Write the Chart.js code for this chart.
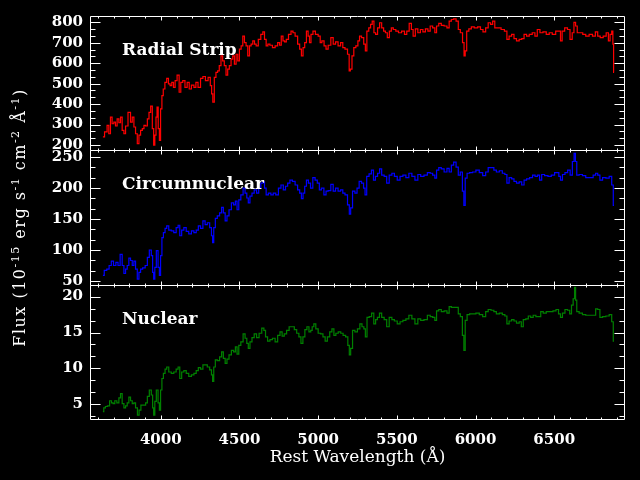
<!DOCTYPE html>
<html>
<head>
<meta charset="utf-8">
<script src="https://cdn.jsdelivr.net/npm/chart.js@4/dist/chart.umd.min.js"></script>
<style>
  html, body { margin: 0; padding: 0; background: #000; }
  canvas { display: block; }
</style>
</head>
<body>
<canvas id="spec" width="640" height="480"></canvas>
<script>
// wavelengths (A) and fluxes
const radialWave = [
  3632,3653,3664,3675,3685,3696,3707,3717,3728,3739,
  3749,3760,3771,3781,3802,3813,3824,3834,3845,3856,
  3866,3877,3888,3898,3909,3920,3930,3941,3951,3958,
  3966,3973,3979,3988,3994,4003,4011,4020,4032,4043,
  4054,4064,4075,4086,4096,4111,4122,4132,4147,4160,
  4175,4186,4203,4218,4228,4245,4260,4275,4292,4309,
  4320,4326,4335,4345,4356,4366,4377,4388,4398,4409,
  4420,4430,4441,4452,4462,4473,4484,4494,4505,4516,
  4526,4537,4547,4558,4569,4579,4590,4601,4611,4628,
  4643,4654,4664,4675,4686,4701,4718,4735,4750,4760,
  4771,4782,4792,4803,4820,4835,4845,4862,4877,4888,
  4899,4909,4920,4931,4941,4949,4960,4974,4991,5009,
  5017,5030,5045,5055,5072,5089,5102,5119,5134,5151,
  5162,5179,5194,5200,5209,5221,5232,5247,5258,5268,
  5283,5296,5304,5315,5328,5338,5349,5360,5370,5385,
  5396,5411,5421,5434,5445,5460,5470,5485,5502,5519,
  5541,5556,5570,5587,5598,5609,5626,5641,5658,5673,
  5690,5705,5719,5736,5747,5758,5775,5790,5811,5826,
  5839,5854,5868,5885,5896,5911,5924,5930,5939,5949,
  5966,5981,6003,6024,6039,6056,6073,6088,6103,6115,
  6130,6152,6173,6194,6205,6222,6237,6252,6269,6286,
  6301,6316,6333,6350,6371,6384,6401,6418,6439,6460,
  6477,6499,6520,6535,6545,6556,6577,6592,6609,6620,
  6631,6641,6652,6673,6690,6711,6733,6754,6769,6784,
  6801,6822,6839,6850,6860,6871,6875,6880
];
const radialFlux = [
  240,264,296,255,336,304,312,293,328,309,
  336,272,255,293,360,312,336,288,255,207,
  248,272,280,296,293,328,360,390,280,199,
  248,336,385,280,223,377,442,474,506,526,
  499,490,506,482,515,542,458,506,515,482,
  506,474,493,482,506,482,526,535,515,531,
  490,450,410,531,555,563,588,636,612,588,
  542,571,588,620,636,596,644,612,669,685,
  733,701,685,636,685,693,709,693,685,717,
  741,753,717,685,693,688,676,685,701,688,
  733,709,704,717,741,757,749,733,693,669,
  636,676,701,757,733,701,741,757,741,733,
  701,709,685,669,688,725,693,704,685,701,
  676,669,644,563,571,636,676,685,709,733,
  725,693,660,757,773,790,806,749,741,773,
  798,773,757,749,725,757,773,765,757,749,
  757,741,757,795,765,733,768,749,765,753,
  768,757,782,773,749,782,795,785,782,773,
  806,814,817,806,765,749,701,636,660,757,
  768,778,773,778,765,753,773,798,790,806,
  773,773,765,757,717,733,741,720,709,717,
  720,741,733,741,749,733,765,749,753,741,
  749,741,757,757,709,757,773,765,717,749,
  800,782,749,749,741,733,741,733,753,733,
  725,733,749,709,741,757,693,555
];

const circWave = [
  3632,3649,3664,3679,3692,3707,3722,3734,3749,3760,
  3771,3781,3792,3802,3813,3824,3834,3845,3856,3866,
  3877,3892,3909,3920,3934,3945,3951,3958,3966,3977,
  3988,3994,4003,4011,4022,4032,4043,4058,4075,4090,
  4105,4115,4126,4139,4154,4169,4186,4203,4218,4232,
  4245,4260,4275,4288,4303,4318,4326,4332,4341,4352,
  4366,4381,4392,4403,4415,4426,4441,4456,4469,4479,
  4490,4501,4516,4530,4541,4552,4560,4573,4586,4601,
  4616,4628,4643,4654,4664,4675,4692,4707,4722,4739,
  4756,4771,4786,4799,4813,4828,4845,4862,4877,4888,
  4899,4909,4920,4931,4945,4958,4974,4987,5002,5013,
  5028,5045,5055,5072,5089,5102,5119,5134,5151,5162,
  5179,5194,5202,5211,5226,5241,5253,5268,5283,5294,
  5302,5315,5332,5345,5358,5370,5385,5396,5411,5428,
  5443,5460,5477,5492,5513,5528,5549,5566,5587,5604,
  5626,5641,5662,5683,5705,5719,5736,5747,5758,5775,
  5790,5811,5826,5839,5854,5868,5885,5896,5911,5922,
  5930,5939,5954,5971,5992,6013,6035,6056,6073,6088,
  6109,6124,6141,6162,6179,6194,6205,6222,6237,6252,
  6269,6286,6301,6316,6333,6354,6371,6386,6401,6413,
  6428,6450,6471,6492,6513,6524,6535,6545,6560,6577,
  6594,6609,6622,6631,6639,6648,6669,6690,6711,6737,
  6758,6769,6784,6797,6818,6839,6860,6871,6880
];
const circFlux = [
  59,67,69,75,82,75,80,75,93,75,
  62,69,75,87,83,75,82,69,53,64,
  69,71,75,88,100,91,64,53,72,99,
  72,59,91,120,128,135,139,132,131,128,
  136,140,123,132,136,130,126,131,128,132,
  139,135,147,141,144,136,123,112,136,151,
  155,160,169,160,147,155,165,176,173,179,
  165,181,189,200,192,184,176,187,192,197,
  192,200,208,210,200,189,192,189,192,189,
  200,205,197,203,208,213,211,205,197,192,
  183,192,203,213,208,200,217,213,208,197,
  200,189,195,196,206,195,200,195,197,192,
  189,173,158,168,195,192,200,211,208,200,
  189,219,223,229,213,219,224,231,221,219,
  208,221,224,219,213,219,221,217,224,219,
  213,222,219,221,225,224,221,216,229,233,
  231,226,232,226,237,242,234,221,226,195,
  172,216,224,225,226,229,225,220,226,233,
  233,229,226,228,224,222,208,217,215,211,
  208,210,205,213,215,217,221,219,221,213,
  222,220,219,221,225,225,219,213,222,225,
  229,221,243,256,243,221,222,220,217,217,
  221,224,221,213,217,216,219,205,172
];

const nucWave = [
  3632,3643,3653,3668,3681,3692,3702,3713,3728,3739,
  3749,3760,3771,3781,3792,3802,3813,3824,3834,3845,
  3858,3866,3881,3898,3909,3920,3934,3945,3951,3958,
  3966,3977,3988,3994,4003,4011,4022,4032,4043,4058,
  4075,4090,4105,4115,4126,4139,4154,4169,4186,4203,
  4218,4232,4245,4260,4275,4288,4303,4318,4326,4332,
  4341,4352,4366,4381,4392,4403,4415,4426,4441,4456,
  4469,4479,4490,4501,4516,4530,4541,4552,4560,4573,
  4586,4601,4616,4633,4650,4660,4671,4686,4701,4718,
  4735,4750,4765,4777,4792,4807,4824,4841,4856,4871,
  4884,4897,4909,4922,4935,4948,4958,4966,4979,4991,
  5009,5023,5038,5051,5066,5081,5094,5106,5119,5136,
  5151,5166,5183,5194,5202,5211,5226,5241,5258,5272,
  5285,5296,5304,5317,5332,5347,5360,5370,5383,5396,
  5411,5428,5443,5460,5477,5492,5513,5528,5549,5566,
  5587,5604,5626,5641,5662,5683,5705,5719,5736,5747,
  5758,5775,5790,5811,5826,5839,5854,5868,5885,5896,
  5911,5922,5930,5939,5954,5971,5992,6013,6035,6056,
  6073,6088,6109,6124,6141,6162,6179,6194,6205,6222,
  6237,6252,6269,6286,6296,6311,6328,6343,6358,6375,
  6392,6407,6422,6439,6460,6482,6503,6520,6535,6545,
  6560,6577,6592,6605,6615,6626,6633,6639,6648,6669,
  6690,6711,6737,6758,6769,6784,6797,6818,6839,6860,
  6871,6880
];
const nucFlux = [
  4.0,4.5,4.7,4.8,5.5,5.2,5.1,5.5,5.2,5.9,
  6.5,5.1,4.5,4.8,5.2,6.0,5.5,5.1,5.2,4.5,
  3.5,4.2,4.9,4.9,5.2,6.1,7.0,6.3,4.5,3.5,
  5.4,7.0,5.2,4.2,7.0,8.6,9.3,9.9,10.2,9.5,
  9.3,9.5,9.9,10.2,8.6,9.5,9.7,9.3,8.9,9.1,
  9.3,9.7,10.1,9.9,10.5,10.5,10.2,9.8,9.1,8.2,
  10.2,11.2,11.1,11.6,12.3,11.4,10.7,11.3,11.9,12.5,
  12.3,13.0,12.0,13.2,13.7,14.8,14.2,13.5,12.8,13.7,
  14.3,14.8,14.3,14.9,15.6,15.3,14.4,13.8,14.0,14.2,
  13.7,14.6,15.1,14.5,14.8,15.3,15.8,15.8,15.4,14.9,
  14.4,13.5,14.4,15.4,15.8,15.1,15.3,15.8,16.2,15.5,
  14.9,14.8,14.4,13.8,14.4,15.1,15.5,14.6,14.9,15.1,
  14.9,14.6,14.4,13.2,11.9,12.8,15.3,15.1,15.5,16.2,
  15.8,15.5,14.4,17.1,17.2,17.7,16.2,16.8,17.1,17.7,
  17.1,16.8,15.8,17.1,16.8,16.6,16.2,16.5,16.7,16.9,
  17.4,16.9,16.2,16.9,16.7,16.8,17.4,17.2,17.1,16.7,
  18.0,18.2,17.9,18.0,17.7,18.6,18.5,18.5,18.5,17.6,
  17.2,14.6,12.5,16.7,17.5,17.6,17.6,17.7,17.5,17.2,
  17.9,18.2,18.1,17.9,17.6,17.7,17.5,17.3,16.2,16.6,
  16.8,16.6,16.3,16.5,15.8,16.8,16.9,17.3,17.1,17.4,
  17.2,17.2,17.9,17.7,17.9,17.9,18.0,18.2,17.6,17.1,
  17.7,18.2,18.1,17.6,18.8,19.7,21.3,19.5,17.9,17.7,
  17.5,17.4,17.4,17.4,18.3,18.2,17.1,17.2,17.3,17.5,
  16.5,13.8
];

const xTicks = [4000, 4500, 5000, 5500, 6000, 6500];
const radialTicks = [200, 300, 400, 500, 600, 700, 800];
const circTicks = [50, 100, 150, 200, 250];
const nucTicks = [5, 10, 15, 20];

const panels = [
  { id: 'yRad', label: 'Radial Strip', ticks: radialTicks, step: 100 },
  { id: 'yCirc', label: 'Circumnuclear', ticks: circTicks, step: 50 },
  { id: 'yNuc', label: 'Nuclear', ticks: nucTicks, step: 5 }
];

const tickFont = { family: 'DejaVu Serif', size: 15, weight: 'bold' };

function pairs(w, f) {
  return w.map((x, i) => ({ x: x, y: f[i] }));
}

function yScale(min, max, ticks) {
  return {
    type: 'linear',
    position: 'left',
    stack: 'panels',
    stackWeight: 1,
    min: min,
    max: max,
    grid: { display: false, drawTicks: false },
    border: { display: false },
    ticks: { color: '#fff', font: tickFont, padding: 7, autoSkip: false, callback: v => String(v) },
    afterBuildTicks: s => { s.ticks = ticks.map(v => ({ value: v })); },
    afterFit: s => { s.width = 90; }
  };
}

const framePlugin = {
  id: 'frame',
  afterDraw(chart) {
    const ctx = chart.ctx;
    const area = chart.chartArea;
    const xs = chart.scales.x;
    const L = Math.round(area.left) + 0.5;
    const R = Math.round(area.right) - 0.5;
    ctx.save();
    ctx.strokeStyle = '#fff';
    ctx.fillStyle = '#fff';
    ctx.lineWidth = 1;
    panels.forEach(p => {
      const s = chart.scales[p.id];
      const T = Math.round(s.top) + 0.5;
      const B = Math.round(s.bottom) + 0.5;
      ctx.beginPath();
      ctx.rect(L, T, R - L, B - T);
      for (let v = 3600; v <= 6900; v += 100) {
        const px = Math.round(xs.getPixelForValue(v)) + 0.5;
        const len = v % 500 === 0 ? 4 : 2;
        ctx.moveTo(px, B); ctx.lineTo(px, B - len);
        ctx.moveTo(px, T); ctx.lineTo(px, T + len);
      }
      const start = p.ticks[0] - p.step;
      for (let k = 0; ; k++) {
        const v = start + k * p.step / 3;
        if (v > s.max) break;
        if (v < s.min) continue;
        const py = Math.round(s.getPixelForValue(v)) + 0.5;
        const len = k % 3 === 0 ? 10 : 5;
        ctx.moveTo(L, py); ctx.lineTo(L + len, py);
        ctx.moveTo(R, py); ctx.lineTo(R - len, py);
      }
      ctx.stroke();
      ctx.font = 'bold 17px "DejaVu Serif"';
      ctx.textBaseline = 'alphabetic';
      ctx.textAlign = 'left';
      ctx.fillText(p.label, 122, s.top + 39);
    });

    // y title with superscripts
    const parts = [['Flux (10', 0], ['-15', 1], [' erg s', 0], ['-1', 1], [' cm', 0], ['-2', 1], [' Å', 0], ['-1', 1], [')', 0]];
    const mainFont = '16px "DejaVu Serif"';
    const supFont = '11px "DejaVu Serif"';
    ctx.letterSpacing = '1.5px';
    let total = 0;
    parts.forEach(pt => { ctx.font = pt[1] ? supFont : mainFont; total += ctx.measureText(pt[0]).width; });
    ctx.translate(20, (area.top + area.bottom) / 2);
    ctx.rotate(-Math.PI / 2);
    let cx = -total / 2;
    parts.forEach(pt => {
      ctx.font = pt[1] ? supFont : mainFont;
      ctx.fillText(pt[0], cx, pt[1] ? -1 : 5);
      cx += ctx.measureText(pt[0]).width;
    });
    ctx.restore();
  }
};

new Chart(document.getElementById('spec'), {
  type: 'line',
  data: {
    datasets: [
      { data: pairs(nucWave, nucFlux), yAxisID: 'yNuc', borderColor: '#008000' },
      { data: pairs(circWave, circFlux), yAxisID: 'yCirc', borderColor: '#0000ff' },
      { data: pairs(radialWave, radialFlux), yAxisID: 'yRad', borderColor: '#ff0000' }
    ]
  },
  options: {
    responsive: false,
    animation: false,
    devicePixelRatio: 1,
    layout: { padding: { left: 0, right: 15, top: 13, bottom: 0 } },
    elements: {
      line: { borderWidth: 1.2, stepped: 'middle', fill: false, tension: 0 },
      point: { radius: 0 }
    },
    plugins: { legend: { display: false }, tooltip: { enabled: false } },
    scales: {
      x: {
        type: 'linear',
        position: 'bottom',
        min: 3550,
        max: 6950,
        grid: { display: false, drawTicks: false },
        border: { display: false },
        ticks: { color: '#fff', font: tickFont, padding: 12, maxRotation: 0, autoSkip: false, callback: v => String(v) },
        afterBuildTicks: s => { s.ticks = xTicks.map(v => ({ value: v })); },
        afterFit: s => { s.height = 61; },
        title: {
          display: true,
          text: 'Rest Wavelength (Å)',
          color: '#fff',
          font: { family: 'DejaVu Serif', size: 17 },
          padding: { top: 0, bottom: 12 }
        }
      },
      yNuc: yScale(2.96, 21.66, nucTicks),
      yCirc: yScale(44, 261, circTicks),
      yRad: yScale(174, 831, radialTicks)
    }
  },
  plugins: [framePlugin]
});
</script>
</body>
</html>
